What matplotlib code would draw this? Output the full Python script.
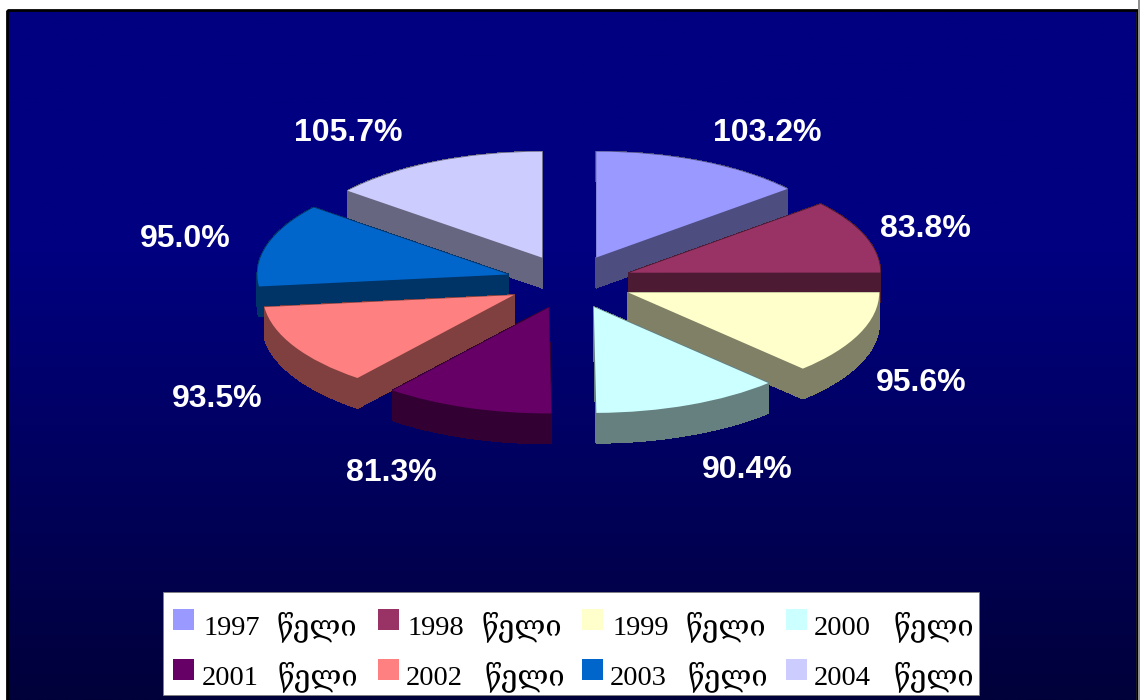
import numpy as np
import matplotlib
matplotlib.use("Agg")
import matplotlib.pyplot as plt
from matplotlib.collections import PolyCollection
from matplotlib.colors import LinearSegmentedColormap, to_rgb
from matplotlib.patches import Rectangle

# ---- data ----
years = ["1997", "1998", "1999", "2000", "2001", "2002", "2003", "2004"]
values = [103.2, 83.8, 95.6, 90.4, 81.3, 93.5, 95.0, 105.7]
colors = ["#9999FF", "#993366", "#FFFFCC", "#CCFFFF", "#660066", "#FF8080", "#0066CC", "#CCCCFF"]
suffix = "წელი"
explode = [0.254] * 8
draw_order = [0, 7, 1, 6, 2, 5, 3, 4]

# ---- layout (pixels) ----
W, H = 1144, 700
CX, CY, RX, RY, DEPTH = 569.5, 282, 251, 106, 30
label_pos = [(767, 133), (925, 229), (921, 383), (747, 470),
             (391, 473), (217, 399), (185, 239), (348, 133)]
swatch_pos = [(173, 609), (378, 609), (582, 609), (786, 609),
              (173, 659), (378, 659), (582, 659), (786, 659)]
year_x = [204, 408, 613, 814, 202, 406, 610, 814]
word_x = [277, 482, 686, 894, 278, 485, 688, 894]
SERIF = ["Liberation Serif", "DejaVu Serif", "DejaVu Sans"]

fig = plt.figure(figsize=(W / 100, H / 100), dpi=100, facecolor="white")

# background panel in pixel coordinates
bg = fig.add_axes([0, 0, 1, 1])
bg.axis("off")
cmap = LinearSegmentedColormap.from_list(
    "navy", [(0, "#000080"), (0.35, "#000080"), (1, "#00003A")])
grad = np.linspace(0, 1, 256).reshape(-1, 1)
bg.imshow(grad, cmap=cmap, aspect="auto", extent=(8, 1136, H, 11), zorder=1)
bg.set_xlim(0, W)
bg.set_ylim(H, 0)
bg.add_patch(Rectangle((7, 10), 1129.5, 700, fill=False, ec="#000000", lw=2.0, zorder=2))
bg.add_patch(Rectangle((1137.5, 0), 2, H, fc="#909090", ec="none", zorder=2))

# pie axes: one data unit is RX pixels across and RY pixels down
span = 2.0
ax = fig.add_axes([(CX - span * RX) / W, (H - CY - span * RY) / H,
                   2 * span * RX / W, 2 * span * RY / H])
wedges, _ = ax.pie(values, explode=explode, startangle=90, counterclock=False,
                   colors=colors, radius=1.0, wedgeprops=dict(linewidth=0))
ax.set_aspect("auto")
ax.set_xlim(-span, span)
ax.set_ylim(-span, span)
ax.axis("off")
ax.patch.set_alpha(0)

dy = DEPTH / RY
for z, i in enumerate(draw_order):
    w = wedges[i]
    t = np.radians(np.linspace(w.theta1, w.theta2, 80))
    cx, cy = w.center
    xs = np.r_[cx, cx + w.r * np.cos(t), cx]
    ys = np.r_[cy, cy + w.r * np.sin(t), cy]
    quads = [[(xs[k], ys[k]), (xs[k + 1], ys[k + 1]),
              (xs[k + 1], ys[k + 1] - dy), (xs[k], ys[k] - dy)]
             for k in range(len(xs) - 1)]
    shade = tuple(c * 0.5 for c in to_rgb(colors[i]))
    pc = PolyCollection(quads, facecolors=[shade], edgecolors=[shade], linewidths=0.5,
                        antialiaseds=False, zorder=10 + 2 * z)
    ax.add_collection(pc)
    w.set_zorder(11 + 2 * z)

# value labels
fg = fig.add_axes([0, 0, 1, 1])
fg.set_xlim(0, W)
fg.set_ylim(H, 0)
fg.axis("off")
fg.patch.set_alpha(0)
for v, (x, y) in zip(values, label_pos):
    fg.text(x, y, f"{v:.1f}%", color="white", fontsize=23, fontweight="bold",
            family="Liberation Sans", ha="center", va="center")

# legend box
fg.add_patch(Rectangle((163, 592), 816, 103, fc="white", ec="#808080", lw=0.6))
for i in range(len(years)):
    sx, sy = swatch_pos[i]
    fg.add_patch(Rectangle((sx, sy), 21, 21, fc=colors[i], ec="none"))
    base = sy + 26
    fg.text(year_x[i], base, years[i], family=SERIF, fontsize=20.5, color="black",
            ha="left", va="baseline")
    fg.text(word_x[i], base, suffix, family=SERIF, fontsize=21, color="black",
            ha="left", va="baseline")

fig.savefig("out.png", dpi=100, facecolor="white")
